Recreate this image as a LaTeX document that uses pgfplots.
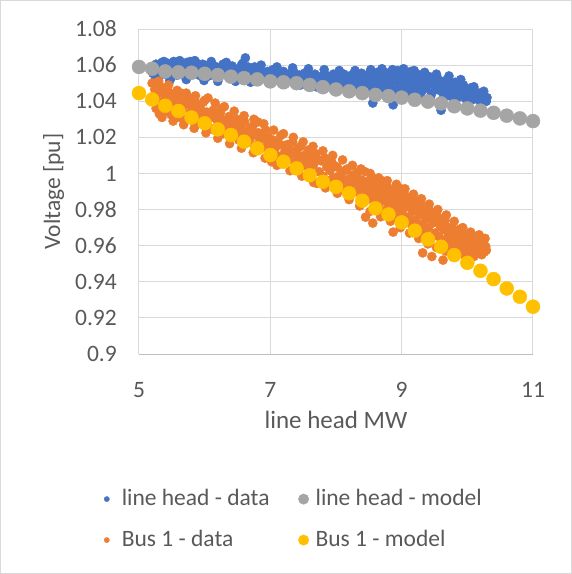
\documentclass[border=0pt]{standalone}
\usepackage{pgfplots}
\pgfplotsset{compat=1.18}
\usepackage{fontspec}
\setmainfont{Carlito}
\definecolor{cBlue}{HTML}{4472C4}
\definecolor{cOrange}{HTML}{ED7D31}
\definecolor{cGray}{HTML}{A5A5A5}
\definecolor{cYellow}{HTML}{FFC000}
\definecolor{cGrid}{HTML}{D9D9D9}
\definecolor{cAxis}{HTML}{BFBFBF}
\definecolor{cText}{HTML}{595959}

\begin{document}
\fontsize{23.5}{28}\selectfont
\begin{tikzpicture}
\path[use as bounding box] (-139pt,-220pt) rectangle (433pt,354pt);
\draw[cGrid, line width=1pt] (-138.5pt,-219.5pt) rectangle (432.5pt,353.5pt);
\begin{axis}[
    scale only axis,
    width=394pt, height=325pt,
    xmin=5, xmax=11, ymin=0.9, ymax=1.08,
    xtick={5,7,9,11},
    ytick={0.9,0.92,0.94,0.96,0.98,1,1.02,1.04,1.06,1.08},
    major tick length=0pt,
    grid=major,
    major grid style={cGrid, line width=1pt},
    axis x line*=bottom,
    axis y line*=left,
    x axis line style={cAxis, line width=1pt, -},
    y axis line style={cGrid, line width=1pt, -},
    clip=false,
    font=\fontsize{23.5}{28}\selectfont,
    /pgf/number format/assume math mode=true,
    yticklabel style={text=cText, anchor=east, inner sep=0pt, xshift=-22pt, /pgf/number format/fixed},
    xticklabel style={text=cText, anchor=north, inner sep=0pt, yshift=-28pt},
    xlabel={line head MW},
    ylabel={Voltage [pu]},
    xlabel style={at={(axis description cs:0.5,0)}, anchor=north, inner sep=0pt, yshift=-57pt, text=cText, font=\fontsize{25}{30}\selectfont},
    ylabel style={at={(axis description cs:-0.2437,0.5)}, anchor=north, inner sep=0pt, text=cText},
    legend columns=2,
    legend cell align=left,
    legend style={at={(axis description cs:-0.1,-0.412)}, anchor=north west,
        draw=none, fill=none, inner sep=0pt, row sep=19pt,
        nodes={inner sep=0pt, text height=17pt, text depth=5pt, text=cText},
        /tikz/every even column/.append style={column sep=27pt}},
    every axis plot/.append style={only marks, mark=*},
]
% line head - data
\addplot[color=cBlue, mark size=4.6pt,
    legend image code/.code={\path[draw=none] (-7pt,0pt) -- (15pt,0pt); \fill[cBlue] (0pt,0pt) circle (2.6pt);}]
coordinates {
(5.21,1.0555) (5.24,1.0590) (5.26,1.0605) (5.28,1.0570) (5.31,1.0540) (5.33,1.0600) (5.35,1.0615) (5.37,1.0580)
(5.40,1.0550) (5.42,1.0595) (5.44,1.0610) (5.46,1.0570) (5.49,1.0530) (5.51,1.0600) (5.53,1.0620) (5.56,1.0585)
(5.58,1.0545) (5.60,1.0605) (5.63,1.0570) (5.65,1.0610) (5.68,1.0590) (5.70,1.0550) (5.73,1.0615) (5.75,1.0580)
(5.78,1.0620) (5.80,1.0560) (5.83,1.0600) (5.86,1.0575) (5.88,1.0610) (5.91,1.0545) (5.94,1.0590) (5.97,1.0605)
(6.00,1.0565) (6.03,1.0595) (6.06,1.0540) (6.09,1.0580) (6.12,1.0600) (6.15,1.0560) (6.18,1.0590) (6.21,1.0530)
(6.25,1.0575) (6.28,1.0605) (6.31,1.0555) (6.35,1.0585) (6.38,1.0545) (6.42,1.0595) (6.45,1.0565) (6.49,1.0535)
(6.52,1.0580) (6.56,1.0600) (6.62,1.0640) (6.60,1.0550) (6.64,1.0575) (6.68,1.0530) (6.72,1.0565) (6.76,1.0590)
(6.80,1.0545) (6.84,1.0575) (6.88,1.0555) (6.92,1.0525) (6.96,1.0565) (7.00,1.0545) (7.04,1.0575) (7.08,1.0520)
(7.12,1.0555) (7.16,1.0535) (7.20,1.0565) (7.24,1.0515) (7.28,1.0550) (7.32,1.0530) (7.36,1.0560) (7.40,1.0510)
(7.44,1.0545) (7.48,1.0525) (7.52,1.0555) (7.56,1.0505) (7.60,1.0540) (7.64,1.0520) (7.68,1.0550) (7.72,1.0500)
(7.76,1.0535) (7.80,1.0515) (7.84,1.0545) (7.88,1.0490) (7.92,1.0530) (7.96,1.0550) (8.00,1.0505) (8.03,1.0535)
(8.06,1.0480) (8.09,1.0520) (8.12,1.0550) (8.15,1.0500) (8.18,1.0530) (8.21,1.0490) (8.24,1.0545) (8.27,1.0515)
(8.30,1.0475) (8.33,1.0535) (8.36,1.0505) (8.39,1.0555) (8.42,1.0490) (8.45,1.0525) (8.48,1.0545) (8.51,1.0470)
(8.54,1.0510) (8.56,1.0390) (8.57,1.0540) (8.60,1.0495) (8.63,1.0560) (8.66,1.0520) (8.69,1.0465) (8.72,1.0535)
(8.75,1.0500) (8.78,1.0555) (8.81,1.0480) (8.84,1.0525) (8.87,1.0380) (8.88,1.0545) (8.90,1.0460) (8.92,1.0510)
(8.94,1.0570) (8.96,1.0495) (8.98,1.0535) (9.00,1.0470) (9.02,1.0555) (9.04,1.0515) (9.06,1.0485) (9.08,1.0545)
(9.10,1.0460) (9.12,1.0525) (9.14,1.0565) (9.16,1.0500) (9.18,1.0540) (9.20,1.0455) (9.22,1.0515) (9.24,1.0550)
(9.26,1.0480) (9.28,1.0530) (9.30,1.0450) (9.32,1.0505) (9.34,1.0545) (9.36,1.0470) (9.38,1.0520) (9.40,1.0490)
(9.43,1.0535) (9.46,1.0445) (9.49,1.0505) (9.52,1.0475) (9.55,1.0525) (9.58,1.0460) (9.60,1.0350) (9.61,1.0500)
(9.64,1.0440) (9.67,1.0515) (9.70,1.0470) (9.73,1.0430) (9.76,1.0495) (9.79,1.0455) (9.82,1.0505) (9.85,1.0420)
(9.88,1.0475) (9.91,1.0445) (9.94,1.0490) (9.97,1.0415) (10.00,1.0460) (10.03,1.0430) (10.06,1.0475) (10.09,1.0410)
(10.12,1.0450) (10.15,1.0425) (10.18,1.0445) (10.21,1.0405) (10.24,1.0430) (10.27,1.0410) (10.29,1.0400)
(5.25,1.0525) (5.38,1.0620) (5.47,1.0515) (5.62,1.0625) (5.72,1.0520) (5.85,1.0625) (5.99,1.0515) (6.10,1.0620)
(6.20,1.0510) (6.33,1.0615) (6.47,1.0510) (6.58,1.0610) (6.70,1.0505) (6.86,1.0600) (6.98,1.0500) (7.10,1.0590)
(7.22,1.0495) (7.34,1.0585) (7.46,1.0490) (7.58,1.0580) (7.70,1.0480) (7.82,1.0575) (7.94,1.0475) (8.05,1.0570)
(8.17,1.0465) (8.29,1.0570) (8.41,1.0460) (8.53,1.0575) (8.62,1.0450) (8.70,1.0580) (8.79,1.0445) (8.86,1.0575)
(8.95,1.0440) (9.03,1.0580) (9.11,1.0435) (9.19,1.0570) (9.27,1.0430) (9.35,1.0560) (9.44,1.0425) (9.53,1.0550)
(9.63,1.0415) (9.72,1.0540) (9.81,1.0410) (9.90,1.0520) (10.01,1.0400) (10.10,1.0480) (10.20,1.0395) (10.25,1.0455)
(10.30,1.0420)
(5.29,1.0585) (5.43,1.0560) (5.55,1.0595) (5.67,1.0565) (5.79,1.0595) (5.92,1.0570) (6.04,1.0580) (6.16,1.0575)
(6.27,1.0560) (6.40,1.0570) (6.53,1.0555) (6.66,1.0590) (6.78,1.0565) (6.90,1.0545) (7.02,1.0560) (7.14,1.0540)
(7.26,1.0535) (7.38,1.0545) (7.50,1.0535) (7.62,1.0530) (7.74,1.0520) (7.86,1.0525) (7.98,1.0520) (8.08,1.0505)
(8.20,1.0515) (8.32,1.0505) (8.44,1.0510) (8.55,1.0525) (8.65,1.0505) (8.74,1.0515) (8.83,1.0500) (8.91,1.0530)
(8.99,1.0505) (9.07,1.0520) (9.15,1.0490) (9.23,1.0530) (9.31,1.0490) (9.39,1.0505) (9.47,1.0520) (9.56,1.0490)
(9.65,1.0480) (9.74,1.0510) (9.83,1.0465) (9.92,1.0470) (10.04,1.0445) (10.14,1.0440) (10.23,1.0420)
};
\addlegendentry{line head - data}
% line head - model
\addplot[color=cGray, mark size=7pt,
    legend image code/.code={\path[draw=none] (-7pt,0pt) -- (12pt,0pt); \fill[cGray] (0pt,0pt) circle (5.2pt);}]
coordinates {
(5.0,1.0590) (5.2,1.0580) (5.4,1.0565) (5.6,1.0560) (5.8,1.0558) (6.0,1.0552) (6.2,1.0545) (6.4,1.0536)
(6.6,1.0528) (6.8,1.0521) (7.0,1.0510) (7.2,1.0505) (7.4,1.0500) (7.6,1.0490) (7.8,1.0478) (8.0,1.0465)
(8.2,1.0455) (8.4,1.0445) (8.6,1.0435) (8.8,1.0428) (9.0,1.0420) (9.2,1.0408) (9.4,1.0398) (9.6,1.0388)
(9.8,1.0372) (10.0,1.0360) (10.2,1.0348) (10.4,1.0336) (10.6,1.0320) (10.8,1.0305) (11.0,1.0290)
};
\addlegendentry{line head - model}
% Bus 1 - data
\addplot[color=cOrange, mark size=4.6pt,
    legend image code/.code={\path[draw=none] (-7pt,0pt) -- (15pt,0pt); \fill[cOrange] (0pt,0pt) circle (2.6pt);}]
coordinates {
(5.20,1.0500) (5.22,1.0410) (5.24,1.0465) (5.26,1.0360) (5.27,1.0505) (5.29,1.0440) (5.31,1.0330) (5.33,1.0480)
(5.35,1.0395) (5.37,1.0455) (5.39,1.0340) (5.41,1.0425) (5.43,1.0470) (5.45,1.0370) (5.47,1.0415) (5.49,1.0325)
(5.51,1.0440) (5.53,1.0385) (5.55,1.0350) (5.57,1.0420) (5.60,1.0395) (5.62,1.0310) (5.64,1.0445) (5.66,1.0360)
(5.69,1.0400) (5.71,1.0300) (5.73,1.0385) (5.76,1.0420) (5.78,1.0335) (5.80,1.0375) (5.83,1.0290) (5.85,1.0400)
(5.88,1.0350) (5.90,1.0275) (5.93,1.0365) (5.95,1.0320) (5.98,1.0395) (6.00,1.0280) (6.03,1.0340) (6.05,1.0418)
(6.07,1.0255) (6.10,1.0310) (6.13,1.0350) (6.15,1.0240) (6.18,1.0300) (6.21,1.0275) (6.24,1.0335) (6.26,1.0360)
(6.28,1.0220) (6.31,1.0285) (6.34,1.0250) (6.37,1.0315) (6.40,1.0200) (6.43,1.0265) (6.46,1.0235) (6.49,1.0300)
(6.52,1.0185) (6.55,1.0250) (6.58,1.0215) (6.61,1.0285) (6.64,1.0170) (6.67,1.0230) (6.70,1.0200) (6.73,1.0260)
(6.76,1.0155) (6.79,1.0215) (6.81,1.0285) (6.84,1.0185) (6.87,1.0140) (6.90,1.0200) (6.93,1.0240) (6.96,1.0160)
(6.99,1.0110) (7.02,1.0065) (7.04,1.0185) (7.07,1.0135) (7.10,1.0160) (7.13,1.0095) (7.16,1.0210) (7.19,1.0155)
(7.22,1.0120) (7.25,1.0080) (7.28,1.0140) (7.31,1.0105) (7.34,1.0175) (7.37,1.0060) (7.40,1.0120) (7.43,1.0085)
(7.46,1.0150) (7.49,1.0040) (7.52,1.0100) (7.55,1.0070) (7.58,1.0130) (7.60,1.0025) (7.63,1.0085) (7.66,1.0050)
(7.69,1.0110) (7.71,0.9945) (7.74,1.0010) (7.77,1.0070) (7.80,0.9985) (7.83,1.0085) (7.86,1.0035) (7.88,0.9960)
(7.91,1.0015) (7.94,1.0060) (7.96,0.9975) (7.99,0.9930) (8.02,1.0035) (8.04,0.9985) (8.07,0.9950) (8.10,1.0010)
(8.12,0.9965) (8.15,0.9915) (8.17,1.0025) (8.20,0.9970) (8.22,0.9935) (8.25,0.9990) (8.27,0.9895) (8.30,0.9950)
(8.32,1.0005) (8.35,0.9920) (8.37,0.9965) (8.40,0.9880) (8.42,0.9940) (8.44,1.0010) (8.45,0.9758) (8.47,0.9905)
(8.49,0.9955) (8.51,0.9860) (8.53,0.9920) (8.55,0.9975) (8.56,0.9725) (8.58,0.9885) (8.60,0.9840) (8.62,0.9935)
(8.64,0.9870) (8.66,0.9810) (8.68,0.9900) (8.70,0.9960) (8.72,0.9850) (8.74,0.9790) (8.76,0.9880) (8.78,0.9930)
(8.80,0.9825) (8.82,0.9865) (8.84,0.9775) (8.86,0.9905) (8.87,0.9675) (8.88,0.9840) (8.90,0.9800) (8.92,0.9875)
(8.94,0.9755) (8.96,0.9920) (8.98,0.9820) (9.00,0.9895) (9.01,0.9780) (9.03,0.9850) (9.05,0.9735) (9.07,0.9815)
(9.09,0.9870) (9.11,0.9760) (9.13,0.9835) (9.15,0.9715) (9.17,0.9790) (9.19,0.9850) (9.21,0.9740) (9.23,0.9800)
(9.25,0.9690) (9.27,0.9770) (9.29,0.9830) (9.31,0.9720) (9.32,0.9560) (9.33,0.9785) (9.35,0.9675) (9.37,0.9750)
(9.39,0.9800) (9.41,0.9700) (9.43,0.9760) (9.45,0.9640) (9.46,0.9540) (9.47,0.9725) (9.49,0.9780) (9.51,0.9670)
(9.53,0.9735) (9.55,0.9760) (9.57,0.9650) (9.59,0.9705) (9.61,0.9620) (9.63,0.9520) (9.64,0.9690) (9.66,0.9740)
(9.68,0.9635) (9.70,0.9675) (9.73,0.9600) (9.75,0.9700) (9.78,0.9640) (9.80,0.9580) (9.83,0.9665) (9.85,0.9610)
(9.88,0.9690) (9.90,0.9570) (9.92,0.9630) (9.95,0.9660) (9.97,0.9590) (10.00,0.9640) (10.02,0.9565) (10.05,0.9615)
(10.07,0.9650) (10.10,0.9580) (10.12,0.9620) (10.15,0.9560) (10.17,0.9635) (10.19,0.9600) (10.21,0.9570) (10.24,0.9615)
(10.26,0.9565) (10.28,0.9595)
(5.30,1.0510) (5.45,1.0490) (5.58,1.0460) (5.72,1.0445) (5.86,1.0430) (6.00,1.0405) (6.16,1.0390) (6.30,1.0370)
(6.45,1.0345) (6.60,1.0320) (6.75,1.0300) (6.90,1.0275) (7.05,1.0240) (7.20,1.0220) (7.35,1.0200) (7.50,1.0175)
(7.65,1.0150) (7.80,1.0125) (7.95,1.0100) (8.10,1.0075) (8.25,1.0045) (8.38,1.0025) (8.52,1.0000) (8.65,0.9975)
(8.78,0.9960) (8.92,0.9940) (9.05,0.9915) (9.18,0.9885) (9.30,0.9860) (9.42,0.9830) (9.55,0.9800) (9.68,0.9770)
(9.80,0.9735) (9.93,0.9700) (10.05,0.9675) (10.18,0.9660) (10.27,0.9640)
(5.35,1.0310) (5.52,1.0290) (5.68,1.0270) (5.84,1.0250) (6.02,1.0225) (6.20,1.0195) (6.38,1.0165) (6.56,1.0140)
(6.74,1.0115) (6.92,1.0085) (7.10,1.0045) (7.30,1.0015) (7.48,0.9985) (7.66,0.9950) (7.84,0.9920) (8.02,0.9890)
(8.20,0.9855) (8.36,0.9820) (8.52,0.9790) (8.68,0.9760) (8.83,0.9735) (8.98,0.9700) (9.12,0.9670) (9.26,0.9640)
(9.40,0.9610) (9.53,0.9590) (9.67,0.9570) (9.82,0.9550) (9.96,0.9545) (10.10,0.9540) (10.22,0.9550)
(5.25,1.0430) (5.40,1.0400) (5.54,1.0410) (5.67,1.0380) (5.81,1.0350) (5.96,1.0340) (6.11,1.0330) (6.25,1.0300)
(6.39,1.0280) (6.53,1.0265) (6.68,1.0245) (6.82,1.0225) (6.97,1.0200) (7.11,1.0180) (7.26,1.0160) (7.41,1.0135)
(7.56,1.0110) (7.70,1.0090) (7.85,1.0060) (7.98,1.0040) (8.13,1.0015) (8.28,0.9985) (8.41,0.9960) (8.54,0.9940)
(8.63,0.9900) (8.71,0.9920) (8.79,0.9885) (8.85,0.9860) (8.93,0.9850) (8.99,0.9860) (9.06,0.9840) (9.14,0.9810)
(9.20,0.9825) (9.28,0.9795) (9.36,0.9780) (9.44,0.9790) (9.50,0.9750) (9.58,0.9740) (9.65,0.9720) (9.72,0.9700)
(9.79,0.9690) (9.86,0.9660) (9.94,0.9645) (10.03,0.9620) (10.11,0.9605) (10.20,0.9590) (10.29,0.9575)
};
\addlegendentry{Bus 1 - data}
% Bus 1 - model
\addplot[color=cYellow, mark size=7pt,
    legend image code/.code={\path[draw=none] (-7pt,0pt) -- (12pt,0pt); \fill[cYellow] (0pt,0pt) circle (5.2pt);}]
coordinates {
(5.0,1.0445) (5.2,1.0410) (5.4,1.0375) (5.6,1.0346) (5.8,1.0310) (6.0,1.0278) (6.2,1.0244) (6.4,1.0213)
(6.6,1.0176) (6.8,1.0139) (7.0,1.0102) (7.2,1.0065) (7.4,1.0028) (7.6,0.9990) (7.8,0.9954) (8.0,0.9926)
(8.2,0.9890) (8.4,0.9849) (8.6,0.9807) (8.8,0.9773) (9.0,0.9729) (9.2,0.9683) (9.4,0.9635) (9.6,0.9594)
(9.8,0.9548) (10.0,0.9505) (10.2,0.9461) (10.4,0.9415) (10.6,0.9363) (10.8,0.9317) (11.0,0.9262)
};
\addlegendentry{Bus 1 - model}
\end{axis}
\end{tikzpicture}
\end{document}
